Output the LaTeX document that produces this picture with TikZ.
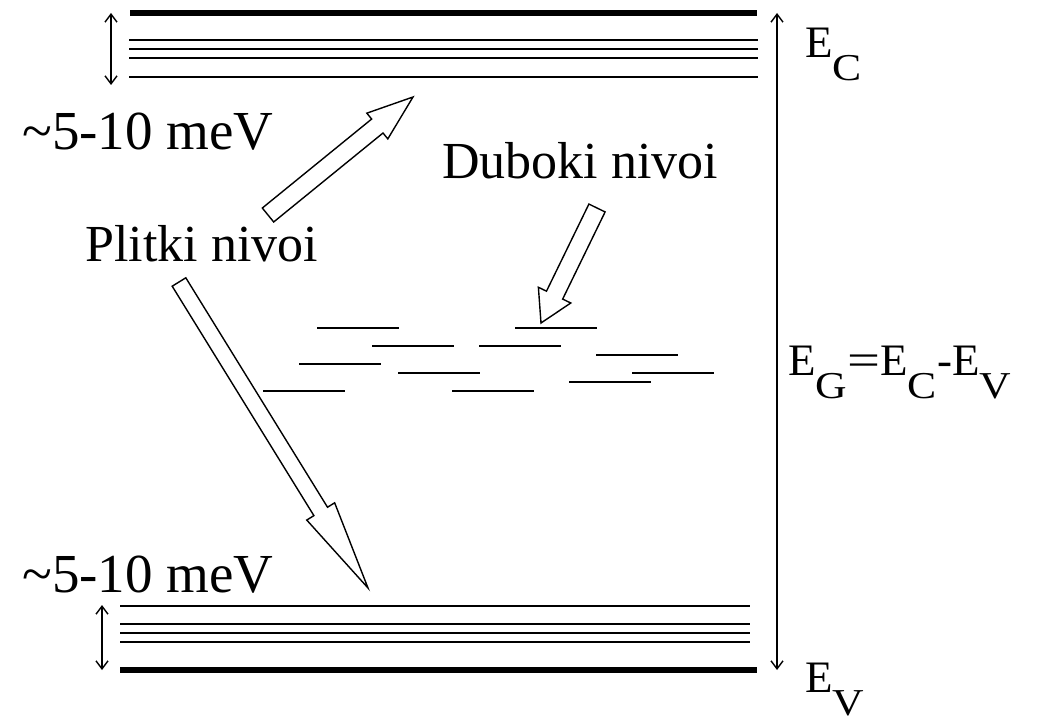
\documentclass[tikz,border=0pt]{standalone}
\usepackage{fontspec}
\setmainfont{Liberation Serif}
\usepackage{tikz}
\usetikzlibrary{arrows.meta, calc, positioning}

% hollow block arrow: from, to, shaft half width, head half width, head length
\newcommand{\hollowarrow}[5]{%
    \coordinate (neck) at ($(#2)!#5!(#1)$);
    \draw[hollow] ($(#1)!#3!90:(#2)$) -- ($(neck)!#3!90:(#2)$)
        -- ($(neck)!#4!90:(#2)$) -- (#2)
        -- ($(neck)!#4!-90:(#2)$) -- ($(neck)!#3!-90:(#2)$)
        -- ($(#1)!#3!-90:(#2)$) -- cycle;
}
% energy label with a lowered subscript
\newcommand{\elevel}[1]{E\raisebox{-11.5pt}{\scalebox{1.15}[1]{\fontsize{19}{19}\selectfont #1}}}

\begin{document}
\begin{tikzpicture}[x=0.5pt, y=-0.5pt]
    % Define styles
    \tikzstyle{band} = [line width=3.3pt]
    \tikzstyle{level} = [line width=1pt]
    \tikzstyle{hollow} = [line width=0.7pt, line join=miter, fill=white]
    \tikzstyle{span} = [line width=0.7pt, {Straight Barb[length=4pt, width=6pt]}-{Straight Barb[length=4pt, width=6pt]}]
    \tikzstyle{big} = [anchor=base west, inner sep=0, font=\fontsize{26}{30}\selectfont]
    \tikzstyle{elab} = [anchor=base west, inner sep=0, font=\fontsize{22.5}{26}\selectfont]

    \useasboundingbox (0,0) rectangle (1061,722);

    % Conduction band
    \draw[band] (130,13) coordinate (cbl) -- (757,13) coordinate (cbr);
    \foreach \y in {40,49,58,77}
        \draw[level] (129,\y) -- (758,\y);
    \coordinate (cbtop) at (111,13);
    \coordinate (cbbot) at (111,85);
    \draw[span] (cbtop) -- (cbbot);

    % Valence band
    \foreach \y in {606,624,633,642}
        \draw[level] (120,\y) -- (750,\y);
    \draw[band] (120,670) coordinate (vbl) -- (757,670) coordinate (vbr);
    \coordinate (vbtop) at (102,605);
    \coordinate (vbbot) at (102,670);
    \draw[span] (vbtop) -- (vbbot);

    % Gap
    \coordinate (gaptop) at (777,13);
    \coordinate (gapbot) at (777,670);
    \draw[span] (gaptop) -- (gapbot);

    % Deep levels
    \foreach \x/\y in {317/328, 372/346, 299/364, 398/373, 263/391,
                       515/328, 479/346, 596/355, 632/373, 569/382, 452/391}
        \draw[level] (\x,\y) -- ++(82,0);

    % Labels
    \node[elab] (ec) at (805,58) {\elevel{C}};
    \node[elab] (ev) at (805,692) {\elevel{V}};
    \node[elab] (eg) at (788,375)
        {\elevel{G}\scalebox{1.3}[1]{=}\elevel{C}-\elevel{V}};
    \node[big, font=\fontsize{27.5}{30}\selectfont] (meva) at (22,150) {\textasciitilde5-10 meV};
    \node[big, font=\fontsize{27.5}{30}\selectfont] (mevb) at (22,592) {\textasciitilde5-10 meV};
    \node[big] (plitki) at (85,262) {Plitki nivoi};
    \node[big] (duboki) at (442,178) {Duboki nivoi};

    % Hollow arrows
    \coordinate (pa) at (268,215);
    \coordinate (pat) at (413,97);
    \hollowarrow{pa}{pat}{4.5pt}{8.3pt}{23pt}
    \coordinate (pb) at (179,282);
    \coordinate (pbt) at (368,588);
    \hollowarrow{pb}{pbt}{4pt}{8.2pt}{45pt}
    \coordinate (da) at (597,208);
    \coordinate (dat) at (541,323);
    \hollowarrow{da}{dat}{4.5pt}{9pt}{15.5pt}

\end{tikzpicture}
\end{document}
